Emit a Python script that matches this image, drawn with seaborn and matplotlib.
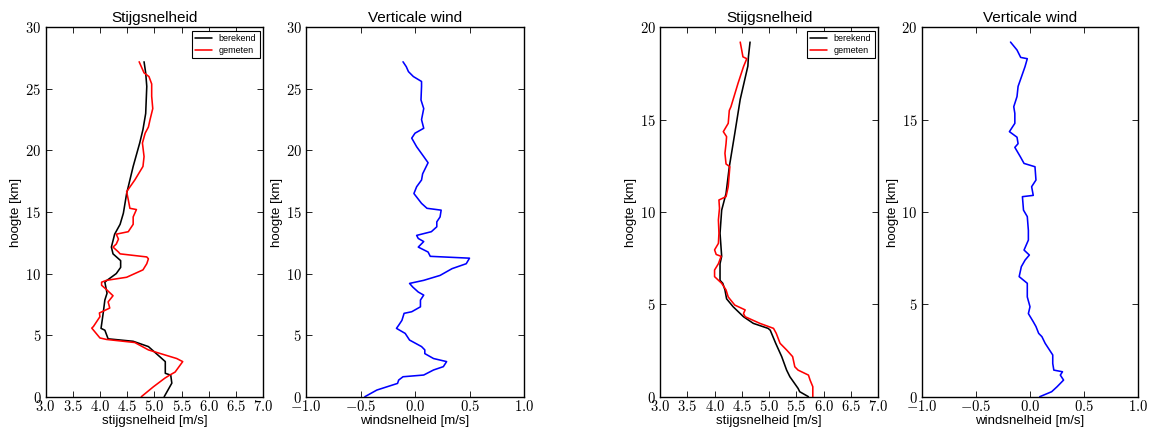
import matplotlib
matplotlib.use("Agg")
import matplotlib.pyplot as plt
from matplotlib.ticker import FuncFormatter, MultipleLocator
import seaborn as sns
import pandas as pd

# ---------------- data ----------------
# Flight 1 : Stijgsnelheid
h1_ber = [0.0, 1.1, 1.75, 1.9, 2.85, 4.07, 4.5, 4.7, 5.4, 5.55, 6.8, 7.85, 8.4, 9.3, 9.45,
          10.0, 10.5, 11.05, 11.6, 12.15, 13.2, 14.0, 14.9, 16.5, 18.7, 20.6, 21.7, 23.0,
          25.2, 26.3, 27.2]
v1_ber = [5.18, 5.32, 5.30, 5.20, 5.20, 4.89, 4.61, 4.15, 4.09, 4.02, 4.06, 4.09, 4.13, 4.09, 4.13,
          4.30, 4.38, 4.38, 4.24, 4.21, 4.27, 4.37, 4.43, 4.49, 4.61, 4.73, 4.79, 4.84,
          4.86, 4.84, 4.81]
h1_gem = [0.0, 0.8, 1.5, 1.75, 2.0, 2.85, 3.1, 3.8, 4.4, 4.65, 4.77, 5.57, 5.7, 6.5, 6.8, 7.2,
          7.7, 8.2, 8.7, 9.05, 9.3, 9.45, 9.7, 10.3, 10.8, 11.2, 11.35, 11.6, 11.75, 12.15,
          12.4, 12.8, 13.2, 13.4, 14.0, 14.6, 15.2, 15.3, 16.0, 16.65, 17.6, 18.7, 19.5,
          20.6, 21.4, 21.9, 22.5, 23.4, 24.4, 25.4, 26.0, 26.3, 26.8, 27.2]
v1_gem = [4.76, 4.98, 5.19, 5.28, 5.38, 5.52, 5.41, 4.89, 4.64, 4.12, 4.00, 3.85, 3.88, 4.00, 3.99, 4.18,
          4.15, 4.24, 4.12, 4.03, 4.03, 4.12, 4.49, 4.79, 4.86, 4.89, 4.86, 4.37, 4.34, 4.24,
          4.30, 4.34, 4.30, 4.52, 4.61, 4.61, 4.67, 4.55, 4.52, 4.49, 4.64, 4.79, 4.81,
          4.78, 4.83, 4.89, 4.92, 4.97, 4.95, 4.95, 4.90, 4.81, 4.76, 4.72]

# Flight 1 : Verticale wind
h1_w = [0.0, 0.54, 1.08, 1.35, 1.62, 1.76, 2.17, 2.44, 2.85, 3.1, 3.5, 3.8, 4.07, 4.6, 5.14,
        5.55, 5.8, 6.2, 6.77, 6.9, 7.3, 7.85, 8.25, 8.5, 8.9, 9.2, 9.45, 9.85, 10.4, 10.8,
        11.25, 11.4, 11.75, 12.15, 12.6, 12.85, 13.1, 13.4, 13.8, 14.2, 14.6, 15.15, 15.3,
        15.7, 16.5, 17.05, 17.6, 18.1, 19.0, 19.5, 20.3, 21.0, 21.4, 21.8, 22.5, 23.4, 24.1,
        25.2, 25.6, 26.0, 26.4, 26.8, 27.2]
v1_w = [-0.46, -0.35, -0.16, -0.15, -0.11, 0.08, 0.17, 0.26, 0.29, 0.17, 0.09, 0.09, 0.06, -0.05, -0.09,
        -0.17, -0.15, -0.12, -0.10, -0.03, 0.05, 0.05, 0.08, 0.03, -0.02, -0.05, 0.08, 0.23, 0.34, 0.47,
        0.50, 0.14, 0.12, 0.03, 0.08, 0.03, 0.015, 0.15, 0.20, 0.20, 0.23, 0.24, 0.11,
        0.06, -0.01, 0.015, 0.06, 0.07, 0.12, 0.08, 0.015, -0.03, 0.0, 0.08, 0.06, 0.08, 0.055,
        0.06, 0.06, -0.015, -0.06, -0.08, -0.11]

# Flight 2 : Stijgsnelheid
h2_ber = [0.0, 0.27, 0.45, 1.08, 1.44, 2.17, 2.89, 3.6, 3.7, 3.97, 4.33, 4.87, 5.3, 5.78, 6.14,
          6.3, 7.2, 7.6, 8.85, 10.1, 11.0, 12.45, 14.25, 16.1, 17.9, 18.4, 19.2]
v2_ber = [5.72, 5.56, 5.53, 5.38, 5.32, 5.23, 5.12, 5.02, 4.98, 4.71, 4.53, 4.34, 4.22, 4.19, 4.15,
          4.10, 4.10, 4.13, 4.10, 4.13, 4.21, 4.27, 4.37, 4.47, 4.61, 4.62, 4.65]
h2_gem = [0.0, 0.54, 0.9, 1.17, 1.44, 1.62, 2.17, 2.53, 2.89, 3.43, 3.7, 3.97, 4.33, 4.5, 4.7,
          4.96, 5.4, 5.78, 6.14, 6.5, 6.86, 7.2, 7.6, 7.7, 7.95, 8.3, 8.85, 9.57, 10.2, 10.65,
          10.83, 11.37, 12.1, 12.45, 12.6, 13.18, 13.7, 14.08, 14.35, 14.8, 15.5, 15.7, 16.97,
          17.87, 18.3, 18.4, 19.2]
v2_gem = [5.80, 5.80, 5.75, 5.72, 5.53, 5.47, 5.43, 5.32, 5.20, 5.13, 5.08, 4.83, 4.56, 4.53, 4.56,
          4.37, 4.25, 4.21, 4.13, 4.00, 4.00, 4.07, 4.12, 4.03, 4.00, 4.07, 4.08, 4.07, 4.09, 4.08,
          4.21, 4.25, 4.27, 4.28, 4.21, 4.19, 4.21, 4.22, 4.16, 4.25, 4.27, 4.30, 4.43,
          4.53, 4.59, 4.52, 4.47]

# Flight 2 : Verticale wind
h2_w = [0.0, 0.27, 0.54, 0.9, 1.17, 1.35, 1.44, 1.8, 2.26, 2.53, 2.89, 3.25, 3.43, 3.8, 4.06,
        4.5, 4.87, 5.4, 6.14, 6.5, 7.04, 7.4, 7.67, 7.94, 8.48, 9.0, 9.75, 10.1, 10.83, 10.9,
        11.37, 11.73, 12.45, 12.63, 13.0, 13.5, 13.7, 14.05, 14.35, 14.8, 15.34, 15.7, 16.25,
        16.8, 17.3, 17.87, 18.3, 18.37, 18.77, 19.2]
v2_w = [0.09, 0.20, 0.25, 0.31, 0.28, 0.30, 0.22, 0.21, 0.21, 0.18, 0.14, 0.11, 0.08, 0.055, 0.03,
        -0.015, 0.0, -0.025, -0.025, -0.10, -0.08, -0.045, -0.006, -0.055, -0.015, -0.015, -0.025, -0.06, -0.07, 0.03,
        0.015, 0.055, 0.046, -0.055, -0.09, -0.14, -0.11, -0.12, -0.19, -0.14, -0.14, -0.15, -0.12,
        -0.11, -0.08, -0.046, -0.025, -0.086, -0.12, -0.18]

titles = ["Stijgsnelheid", "Verticale wind", "Stijgsnelheid", "Verticale wind"]
xlabels = ["stijgsnelheid [m/s]", "windsnelheid [m/s]", "stijgsnelheid [m/s]", "windsnelheid [m/s]"]
ylabel = "hoogte [km]"
legend_labels = ["berekend", "gemeten"]

# ---------------- style ----------------
sns.set_theme(style="white")
plt.rcParams.update({
    "font.family": ["Liberation Sans", "DejaVu Sans"],
    "mathtext.fontset": "cm",
    "axes.edgecolor": "black",
    "axes.linewidth": 1.0,
    "xtick.direction": "in",
    "ytick.direction": "in",
    "xtick.top": True,
    "ytick.right": True,
    "xtick.bottom": True,
    "ytick.left": True,
    "xtick.major.size": 4,
    "ytick.major.size": 4,
    "xtick.major.width": 0.6,
    "ytick.major.width": 0.6,
    "xtick.color": "black",
    "ytick.color": "black",
    "axes.labelcolor": "black",
    "text.color": "black",
})

fig = plt.figure(figsize=(11.63, 4.32), dpi=100)
W, H = 1163, 432
boxes = [(45.5, 263.3), (306, 524), (660, 878.3), (921.7, 1138.3)]
top, bottom = 27.3, 396.7
axes = []
for (l, r) in boxes:
    axes.append(fig.add_axes([l / W, (H - bottom) / H, (r - l) / W, (bottom - top) / H]))

lw = 1.15

def speed_panel(ax, hb, vb, hg, vg, ymax):
    df_b = pd.DataFrame({"v": vb, "h": hb})
    df_g = pd.DataFrame({"v": vg, "h": hg})
    sns.lineplot(data=df_b, x="v", y="h", sort=False, estimator=None, color="black",
                 linewidth=lw, ax=ax, label=legend_labels[0])
    sns.lineplot(data=df_g, x="v", y="h", sort=False, estimator=None, color="red",
                 linewidth=lw, ax=ax, label=legend_labels[1])
    ax.set_xlim(3.0, 7.0)
    ax.set_ylim(0, ymax)
    ax.xaxis.set_major_locator(MultipleLocator(0.5))
    leg = ax.legend(loc="upper right", fontsize=6.5, frameon=True, fancybox=False,
                    framealpha=1, edgecolor="black", handlelength=1.8,
                    borderaxespad=0.4, borderpad=0.35, labelspacing=0.3)
    leg.get_frame().set_linewidth(0.8)


def wind_panel(ax, h, v, ymax):
    df = pd.DataFrame({"v": v, "h": h})
    sns.lineplot(data=df, x="v", y="h", sort=False, estimator=None, color="blue",
                 linewidth=lw, ax=ax)
    ax.set_xlim(-1.0, 1.0)
    ax.set_ylim(0, ymax)
    ax.xaxis.set_major_locator(MultipleLocator(0.5))


speed_panel(axes[0], h1_ber, v1_ber, h1_gem, v1_gem, 30)
wind_panel(axes[1], h1_w, v1_w, 30)
speed_panel(axes[2], h2_ber, v2_ber, h2_gem, v2_gem, 20)
wind_panel(axes[3], h2_w, v2_w, 20)

fx = FuncFormatter(lambda v, p: r"$%.1f$" % v)
fy = FuncFormatter(lambda v, p: r"$%g$" % v)
for i, ax in enumerate(axes):
    ax.yaxis.set_major_locator(MultipleLocator(5))
    ax.xaxis.set_major_formatter(fx)
    ax.yaxis.set_major_formatter(fy)
    ax.tick_params(axis="x", labelsize=10.5, pad=1.5)
    ax.tick_params(axis="y", labelsize=10.5, pad=3)
    ax.set_title(titles[i], fontsize=11, pad=4)
    ax.set_xlabel(xlabels[i], fontsize=9.5, labelpad=1)
    ax.set_ylabel(ylabel, fontsize=9.5, labelpad=2)
    for s in ax.spines.values():
        s.set_visible(True)
        s.set_color("black")
        s.set_linewidth(1.0)

fig.savefig("out.png", dpi=100)
